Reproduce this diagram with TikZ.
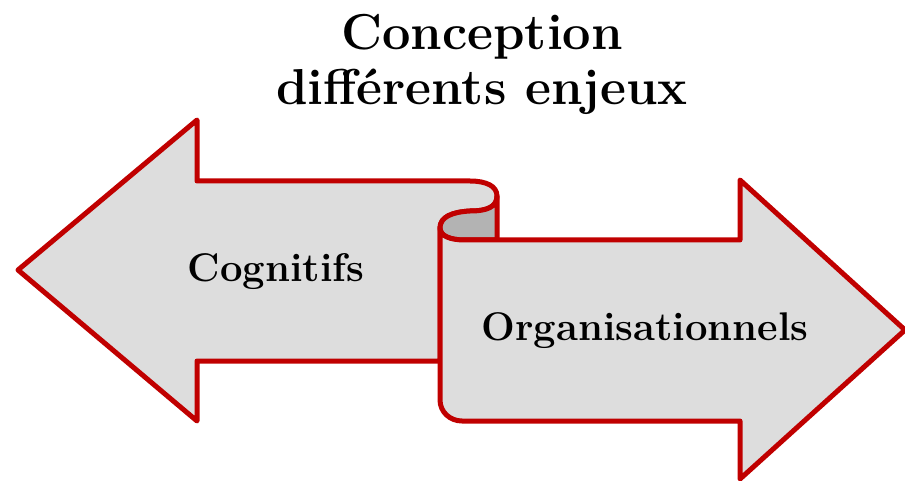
\documentclass[tikz,border=0pt]{standalone}
\usepackage{tikz}
\begin{document}
\definecolor{scrollred}{HTML}{C00000}
\definecolor{scrollfill}{HTML}{DDDDDD}
\definecolor{scrollshade}{HTML}{B3B3B3}
\begin{tikzpicture}[x=1pt,y=-1pt,
  arrowpart/.style={draw=scrollred,line width=5pt,line join=round,fill=scrollfill},
  shadepart/.style={draw=scrollred,line width=5pt,line join=round,fill=scrollshade},
  label/.style={font=\fontsize{40}{48}\selectfont\bfseries,text=black},
  title/.style={font=\fontsize{50.5}{55}\selectfont\bfseries,align=center,text=black}]
\useasboundingbox (0,0) rectangle (905,481);

% left arrow, its shaft ending in the upper curl
\path[arrowpart] (18,270) -- (197,120) -- (197,181) -- (470,181)
  .. controls (486,181) and (497,186) .. (497,196)
  .. controls (497,207) and (487,211) .. (470,211)
  .. controls (452,212) and (440,217) .. (440,228)
  -- (440,361) -- (197,361) -- (197,421) -- cycle;

% shaded inner face of the curl
\path[shadepart] (497,240) -- (497,196)
  .. controls (497,207) and (487,211) .. (470,211)
  .. controls (452,212) and (440,217) .. (440,228)
  .. controls (440,236) and (450,240) .. (465,240) -- cycle;

% right arrow, unrolling from the curl
\path[arrowpart] (440,228)
  .. controls (440,236) and (450,240) .. (465,240)
  -- (740,240) -- (740,180) -- (905,330) -- (740,479) -- (740,421)
  -- (462,421) .. controls (450,421) and (440,412) .. (440,400) -- cycle;

\node[title] (heading) at (482,64) {Conception\\diff\'erents enjeux};
\node[label] (cog) at (276,272) {Cognitifs};
\node[label] (org) at (645,331) {Organisationnels};
\end{tikzpicture}
\end{document}
